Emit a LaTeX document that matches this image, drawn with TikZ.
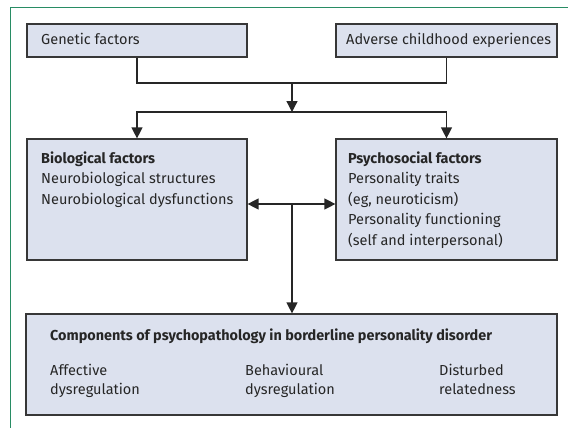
\documentclass[tikz,border=0pt]{standalone}
\usepackage{fontspec}
\setmainfont{Fira Sans}
\usetikzlibrary{arrows.meta}
\definecolor{boxfill}{RGB}{220,225,238}
\definecolor{boxline}{RGB}{55,55,55}
\definecolor{framegreen}{RGB}{40,140,100}
\tikzset{
  box/.style={draw=boxline, fill=boxfill, line width=1.2pt, rectangle, inner sep=0pt},
  txt/.style={anchor=base west, inner sep=0pt, font=\fontsize{14.5}{20}\selectfont, text=black!85},
  hd/.style={txt, font=\fontsize{14.4}{20}\selectfont\bfseries},
  conn/.style={draw=black!85, line width=1.3pt},
  arr/.style={conn, -{Triangle[width=11pt,length=11pt]}},
  darr/.style={conn, {Triangle[width=11pt,length=11pt]}-{Triangle[width=11pt,length=11pt]}},
}
\begin{document}
\begin{tikzpicture}[x=1pt,y=-1pt]
\useasboundingbox (0,0) rectangle (568,431);
% frame
\draw[framegreen, line width=0.9pt] (568,7.5) -- (10.5,7.5) -- (10.5,428);
% boxes
\node[box, minimum width=220pt, minimum height=33pt] (gen) at (137,40.5) {};
\node[box, minimum width=221pt, minimum height=33pt] (adv) at (446.5,40.5) {};
\node[box, minimum width=220pt, minimum height=121pt] (bio) at (137,199.5) {};
\node[box, minimum width=221pt, minimum height=121pt] (psy) at (446.5,199.5) {};
\node[box, minimum width=531pt, minimum height=101pt] (comp) at (291.5,364.5) {};
% texts
\node[txt] (tgen) at (41,45) {Genetic factors};
\node[txt] (tadv) at (346,45) {Adverse childhood experiences};
\node[hd] (tbio1) at (41,163) {Biological factors};
\node[txt] (tbio2) at (41,183.5) {Neurobiological structures};
\node[txt] (tbio3) at (41,204) {Neurobiological dysfunctions};
\node[hd] (tpsy1) at (348,163) {Psychosocial factors};
\node[txt] (tpsy2) at (348,183.5) {Personality traits};
\node[txt] (tpsy3) at (348,204) {(eg, neuroticism)};
\node[txt] (tpsy4) at (348,224.5) {Personality functioning};
\node[txt] (tpsy5) at (348,245) {(self and interpersonal)};
\node[hd] (tcomp) at (50,340) {Components of psychopathology in borderline personality disorder};
\node[txt] (tc1) at (50,375) {Affective};
\node[txt] (tc1b) at (50,394) {dysregulation};
\node[txt] (tc2) at (245,375) {Behavioural};
\node[txt] (tc2b) at (245,394) {dysregulation};
\node[txt] (tc3) at (439,375) {Disturbed};
\node[txt] (tc3b) at (439,394) {relatedness};
% connector coordinates
\coordinate (j1) at (292,83);
\coordinate (j2) at (292,112);
\coordinate (j3) at (292,204);
% connectors
\draw[conn] (gen.south) |- (j1) -| (adv.south);
\draw[arr] (j1) -- (j2);
\draw[arr] (j2) -| (bio.north);
\draw[arr] (j2) -| (psy.north);
\draw[darr] (bio.east |- j3) -- (psy.west |- j3);
\draw[arr] (j3) -- (comp.north -| j3);
\end{tikzpicture}
\end{document}
